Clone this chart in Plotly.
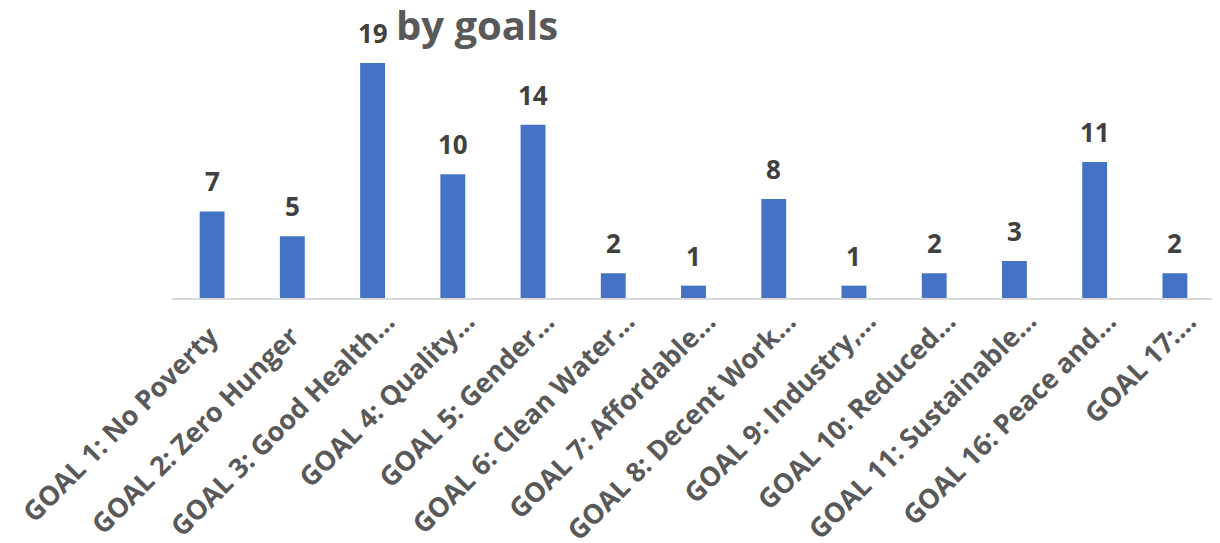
import plotly.graph_objects as go

categories = [
    "GOAL 1: No Poverty", "GOAL 2: Zero Hunger", "GOAL 3: Good Health…",
    "GOAL 4: Quality…", "GOAL 5: Gender…", "GOAL 6: Clean Water…",
    "GOAL 7: Affordable…", "GOAL 8: Decent Work…", "GOAL 9: Industry,…",
    "GOAL 10: Reduced…", "GOAL 11: Sustainable…", "GOAL 16: Peace and…",
    "GOAL 17:…",
]
values = [7, 5, 19, 10, 14, 2, 1, 8, 1, 2, 3, 11, 2]
title_text = "by goals"

FONT = "Open Sans"

fig = go.Figure()
fig.add_trace(go.Bar(
    x=categories, y=values,
    marker=dict(color="#4472C4", line=dict(width=0)),
    hoverinfo="x+y",
))

# value labels
for c, v in zip(categories, values):
    fig.add_annotation(
        x=c, y=v, text=f"<b>{v}</b>", showarrow=False,
        xref="x", yref="y", yanchor="bottom", yshift=10,
        font=dict(family=FONT, size=26, color="#404040"),
    )

# category labels (rotated), truncated ones sit a little further along
for c in categories:
    extra = 15 if c.endswith("…") else 0
    fig.add_annotation(
        x=c, y=0, xref="x", yref="paper", text=f"<b>{c}</b>",
        showarrow=False, textangle=-45, xanchor="right", yanchor="top",
        xshift=17 + extra, yshift=-17 + extra,
        font=dict(family=FONT, size=27, color="#595959"),
    )

fig.add_annotation(
    xref="paper", yref="paper", x=0.2924, y=0.951,
    xanchor="center", yanchor="middle", showarrow=False,
    text=f"<b>{title_text}</b>",
    font=dict(family=FONT, size=40, color="#595959"),
)

fig.update_layout(
    width=1212, height=535,
    margin=dict(l=164, r=5, t=2, b=245),
    paper_bgcolor="white", plot_bgcolor="white",
    bargap=0.69,
    showlegend=False,
    font=dict(family=FONT),
)
fig.update_xaxes(
    showline=True, linecolor="#D9D9D9", linewidth=2,
    showgrid=False, ticks="", showticklabels=False,
    range=[-0.5, len(categories) - 0.5], autorange=False,
)
fig.update_yaxes(
    visible=False, range=[0, 288 / 12.37], showgrid=False, zeroline=False,
)

fig.write_html("out.html")
